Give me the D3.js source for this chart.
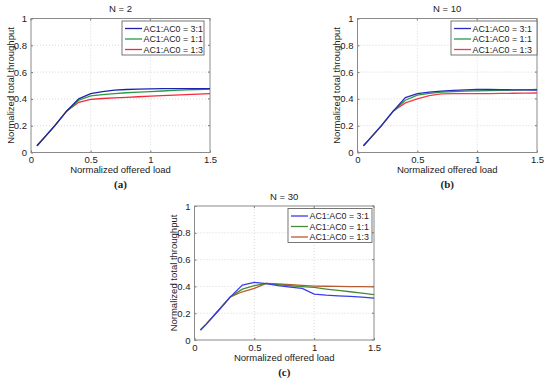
<!DOCTYPE html>
<html><head><meta charset="utf-8">
<script src="https://cdn.jsdelivr.net/npm/d3@7/dist/d3.min.js"></script>
<style>
html,body{margin:0;padding:0;background:#fff;}
svg{display:block;font-family:"Liberation Sans",Arial,sans-serif;}
</style></head><body>
<svg id="c" width="550" height="381"></svg>
<script>
const loads = [0.05, 0.1, 0.2, 0.3, 0.4, 0.5, 0.6, 0.7, 0.8, 0.9, 1.0, 1.1, 1.2, 1.3, 1.4, 1.5];
const seriesNames = ["AC1:AC0 = 3:1", "AC1:AC0 = 1:1", "AC1:AC0 = 1:3"];
const xTicks = [0, 0.5, 1, 1.5];
const yTicks = [0, 0.2, 0.4, 0.6, 0.8, 1];

// N = 2
const n2_31 = [0.05, 0.10, 0.20, 0.31, 0.40, 0.44, 0.455, 0.465, 0.47, 0.473, 0.475, 0.476, 0.476, 0.476, 0.476, 0.476];
const n2_11 = [0.05, 0.10, 0.20, 0.31, 0.39, 0.422, 0.432, 0.44, 0.446, 0.451, 0.455, 0.459, 0.463, 0.467, 0.47, 0.473];
const n2_13 = [0.05, 0.10, 0.20, 0.31, 0.375, 0.397, 0.403, 0.408, 0.412, 0.416, 0.42, 0.424, 0.428, 0.432, 0.436, 0.44];
// N = 10
const n10_31 = [0.05, 0.10, 0.20, 0.31, 0.41, 0.44, 0.45, 0.458, 0.464, 0.468, 0.47, 0.47, 0.469, 0.468, 0.467, 0.466];
const n10_11 = [0.05, 0.10, 0.20, 0.31, 0.39, 0.428, 0.442, 0.45, 0.455, 0.458, 0.46, 0.462, 0.464, 0.466, 0.468, 0.47];
const n10_13 = [0.05, 0.10, 0.20, 0.31, 0.37, 0.40, 0.425, 0.438, 0.44, 0.44, 0.44, 0.44, 0.441, 0.442, 0.443, 0.444];
// N = 30
const n30_31 = [0.075, 0.12, 0.22, 0.322, 0.41, 0.43, 0.42, 0.405, 0.395, 0.385, 0.343, 0.335, 0.33, 0.325, 0.32, 0.313];
const n30_11 = [0.075, 0.12, 0.22, 0.322, 0.38, 0.405, 0.422, 0.413, 0.405, 0.398, 0.392, 0.38, 0.37, 0.36, 0.35, 0.338];
const n30_13 = [0.075, 0.12, 0.22, 0.322, 0.36, 0.385, 0.422, 0.418, 0.413, 0.408, 0.402, 0.401, 0.4, 0.399, 0.398, 0.397];

const panels = [
  {title: "N = 2", caption: "(a)", data: [n2_31, n2_11, n2_13],
   colors: ["#1c22b0", "#2a9a42", "#f42a3a"],
   x0: 31, x1: 210, y0: 18.5, y1: 152.5, lg: {x: 122, y: 21, w: 82, h: 34}},
  {title: "N = 10", caption: "(b)", data: [n10_31, n10_11, n10_13],
   colors: ["#2a2ac0", "#2a9a42", "#f43a4a"],
   x0: 357.5, x1: 537, y0: 18.5, y1: 152.5, lg: {x: 451, y: 21, w: 86, h: 34}},
  {title: "N = 30", caption: "(c)", data: [n30_31, n30_11, n30_13],
   colors: ["#3a3af0", "#4a8a34", "#b85a30"],
   x0: 194.5, x1: 374, y0: 206, y1: 340, lg: {x: 288, y: 208.5, w: 84, h: 34}}
];

const svg = d3.select("#c");

panels.forEach(p => {
  const x = d3.scaleLinear().domain([0, 1.5]).range([p.x0, p.x1]);
  const y = d3.scaleLinear().domain([0, 1]).range([p.y1, p.y0]);
  const g = svg.append("g");

  // grid
  g.append("g").selectAll("line").data(xTicks.slice(1, -1)).join("line")
    .attr("x1", d => x(d)).attr("x2", d => x(d)).attr("y1", p.y0).attr("y2", p.y1)
    .attr("stroke", "#c8c8c8").attr("stroke-width", 0.7).attr("stroke-dasharray", "1,2");
  g.append("g").selectAll("line").data(yTicks.slice(1, -1)).join("line")
    .attr("y1", d => y(d)).attr("y2", d => y(d)).attr("x1", p.x0).attr("x2", p.x1)
    .attr("stroke", "#c8c8c8").attr("stroke-width", 0.7).attr("stroke-dasharray", "1,2");

  // axes
  const xa = g.append("g").attr("transform", `translate(0,${p.y1})`)
    .call(d3.axisBottom(x).tickValues(xTicks).tickSize(-2).tickPadding(4).tickFormat(d3.format("~g")));
  const ya = g.append("g").attr("transform", `translate(${p.x0},0)`)
    .call(d3.axisLeft(y).tickValues(yTicks).tickSize(-2).tickPadding(4).tickFormat(d3.format("~g")));
  [xa, ya].forEach(a => {
    a.select(".domain").remove();
    a.selectAll(".tick line").attr("stroke", "#777");
    a.selectAll(".tick text").attr("fill", "#222").style("font-size", "9.5px")
      .style("font-family", "'Liberation Sans',Arial,sans-serif");
  });
  // ticks on top/right
  g.append("g").selectAll("line").data(xTicks).join("line")
    .attr("x1", d => x(d)).attr("x2", d => x(d)).attr("y1", p.y0).attr("y2", p.y0 + 2).attr("stroke", "#777");
  g.append("g").selectAll("line").data(yTicks).join("line")
    .attr("y1", d => y(d)).attr("y2", d => y(d)).attr("x1", p.x1).attr("x2", p.x1 - 2).attr("stroke", "#777");

  g.append("rect").attr("x", p.x0).attr("y", p.y0).attr("width", p.x1 - p.x0).attr("height", p.y1 - p.y0)
    .attr("fill", "none").attr("stroke", "#8a8a8a").attr("stroke-width", 1);

  // lines (draw 1:3 first so 3:1 is on top)
  const line = d3.line().x((d, i) => x(loads[i])).y(d => y(d));
  [2, 1, 0].forEach(k => {
    g.append("path").datum(p.data[k]).attr("d", line)
      .attr("fill", "none").attr("stroke", p.colors[k]).attr("stroke-width", 1.3);
  });

  // title
  g.append("text").attr("x", (p.x0 + p.x1) / 2).attr("y", p.y0 - 6.5).attr("text-anchor", "middle")
    .style("font-size", "9.5px").attr("fill", "#222").text(p.title);
  // x label
  g.append("text").attr("x", (p.x0 + p.x1) / 2).attr("y", p.y1 + 20.5).attr("text-anchor", "middle")
    .style("font-size", "9.5px").attr("fill", "#222").text("Normalized offered load");
  // y label
  g.append("text").attr("transform", `translate(${p.x0 - 17.5},${(p.y0 + p.y1) / 2}) rotate(-90)`)
    .attr("text-anchor", "middle").style("font-size", "9.5px").attr("fill", "#222")
    .text("Normalized total throughput");
  // caption
  g.append("text").attr("x", (p.x0 + p.x1) / 2).attr("y", p.y1 + 35.5).attr("text-anchor", "middle")
    .style("font-family", "'Liberation Serif','Times New Roman',serif").style("font-size", "11px")
    .style("font-weight", "bold").attr("fill", "#222").text(p.caption);

  // legend
  const L = p.lg;
  g.append("rect").attr("x", L.x).attr("y", L.y).attr("width", L.w).attr("height", L.h)
    .attr("fill", "#fff").attr("stroke", "#555").attr("stroke-width", 0.8);
  seriesNames.forEach((s, k) => {
    const yy = L.y + 7.5 + k * 10.5;
    g.append("line").attr("x1", L.x + 3).attr("x2", L.x + 20).attr("y1", yy).attr("y2", yy)
      .attr("stroke", p.colors[k]).attr("stroke-width", 1.3);
    g.append("text").attr("x", L.x + 21.5).attr("y", yy + 3.3).style("font-size", "8.9px")
      .attr("fill", "#222").text(s);
  });
});
</script>
</body></html>
